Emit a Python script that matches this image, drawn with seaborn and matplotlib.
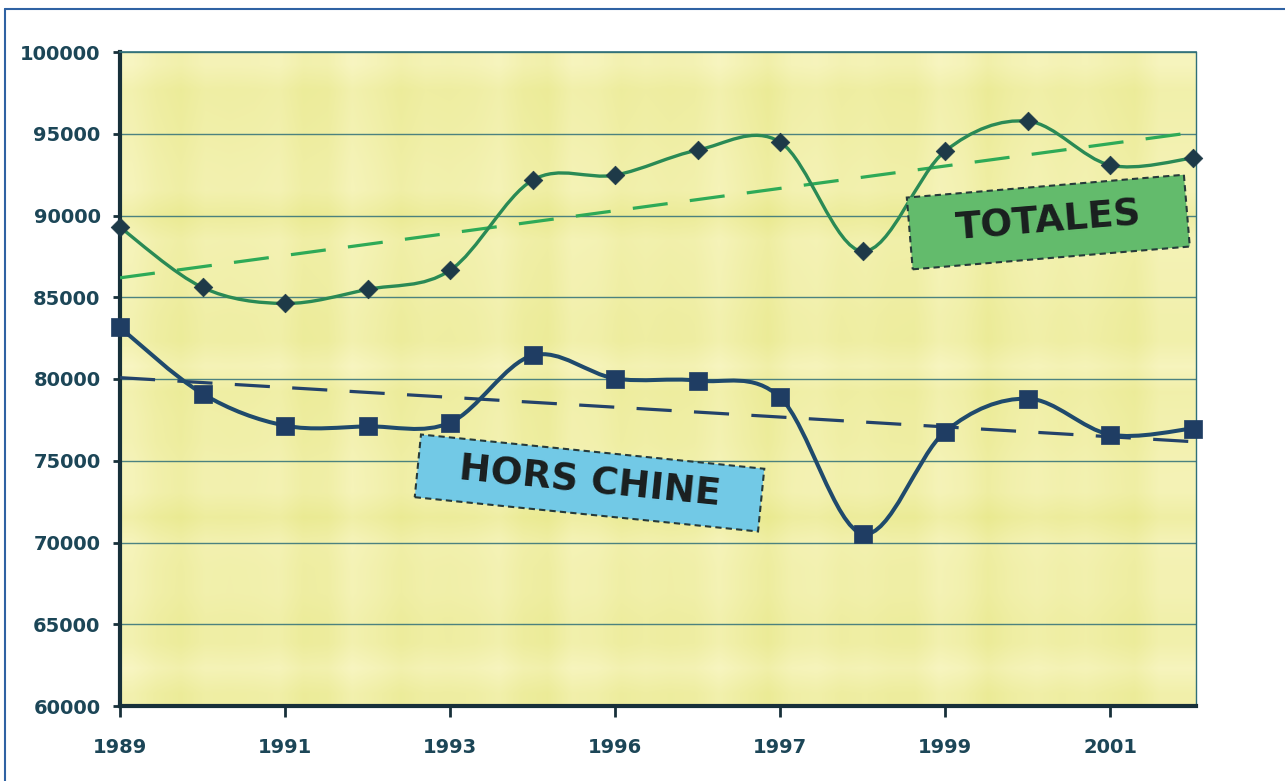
import numpy as np
import matplotlib
matplotlib.use("Agg")
import matplotlib.pyplot as plt
import seaborn as sns
from matplotlib.path import Path
from matplotlib.patches import PathPatch, Rectangle
from matplotlib.transforms import Affine2D
from matplotlib.lines import Line2D

# ---- data ----
years = list(range(1989, 2003))
totales = [89280, 85600, 84620, 85480, 86650, 92160, 92470,
           94000, 94490, 87810, 93940, 95770, 93080, 93510]
hors_chine = [83150, 79100, 77150, 77100, 77330, 81440, 80030,
              79900, 78870, 70530, 76780, 78800, 76600, 76970]
x_ticks = [1989, 1991, 1993, 1995, 1997, 1999, 2001]
x_tick_labels = ["1989", "1991", "1993", "1996", "1997", "1999", "2001"]
y_ticks = list(range(60000, 100001, 5000))
label_totales = "TOTALES"
label_hors = "HORS CHINE"

# ---- colours ----
C_TEXT = "#1c4657"
C_AXIS = "#17303a"
C_GRID = "#2f6f78"
C_TOT_LINE = "#2a8a55"
C_TOT_MARK = "#1e3a48"
C_TOT_TREND = "#2eaa57"
C_HC_LINE = "#1f4a6c"
C_HC_MARK = "#1f3d63"
C_HC_TREND = "#23426a"

sns.set_theme(style="white")
plt.rcParams["font.family"] = ["DejaVu Sans"]

fig = plt.figure(figsize=(12.85, 7.81), dpi=100)
fig.patch.set_facecolor("white")
ax = fig.add_axes([120 / 1285, 75 / 781, 1076 / 1285, 654 / 781])

XLIM = (1989, 2002.04)
YLIM = (60000, 100000)

# plaid-like pale yellow backdrop
rows, cols = 26, 44
r = np.arange(rows)[:, None]
c = np.arange(cols)[None, :]
weave = 0.5 + 0.25 * np.cos(c * 1.7) * np.cos(c * 0.37) + 0.25 * np.cos(r * 2.1) * np.cos(r * 0.53)
light = np.array([0.972, 0.962, 0.76])
dark = np.array([0.915, 0.915, 0.56])
tex = light[None, None, :] * weave[..., None] + dark[None, None, :] * (1 - weave[..., None])
ax.imshow(tex, extent=(XLIM[0], XLIM[1], YLIM[0], YLIM[1]), aspect="auto",
          interpolation="bilinear", zorder=0)


def smooth_path(xs, ys):
    pts = np.column_stack([xs, ys]).astype(float)
    n = len(pts)
    verts = [pts[0]]
    codes = [Path.MOVETO]
    for i in range(n - 1):
        p0 = pts[i - 1] if i > 0 else pts[i]
        p1, p2 = pts[i], pts[i + 1]
        p3 = pts[i + 2] if i + 2 < n else pts[i + 1]
        verts += [p1 + (p2 - p0) / 6, p2 - (p3 - p1) / 6, p2]
        codes += [Path.CURVE4] * 3
    return Path(verts, codes)


# trend lines
sns.regplot(x=years, y=totales, scatter=False, ci=None, truncate=True, ax=ax,
            color=C_TOT_TREND, line_kws=dict(lw=2.3, linestyle=(0, (11, 7)), zorder=3))
sns.regplot(x=years, y=hors_chine, scatter=False, ci=None, truncate=True, ax=ax,
            color=C_HC_TREND, line_kws=dict(lw=2.3, linestyle=(0, (11, 7)), zorder=3))

# smoothed series lines
ax.add_patch(PathPatch(smooth_path(years, totales), fc="none", ec=C_TOT_LINE, lw=2.4, zorder=4))
ax.add_patch(PathPatch(smooth_path(years, hors_chine), fc="none", ec=C_HC_LINE, lw=2.9, zorder=4))

# markers
sns.scatterplot(x=years, y=totales, marker="D", s=90, color=C_TOT_MARK,
                edgecolor=C_TOT_MARK, linewidth=0.5, ax=ax, zorder=5, clip_on=False)
sns.scatterplot(x=years, y=hors_chine, marker="s", s=170, color=C_HC_MARK,
                edgecolor=C_HC_MARK, linewidth=0.5, ax=ax, zorder=5, clip_on=False)

ax.set_xlim(*XLIM)
ax.set_ylim(*YLIM)

# grid
for yv in y_ticks[1:]:
    ax.axhline(yv, color=C_GRID, lw=1.0, alpha=0.85, zorder=1)

ax.set_xticks(x_ticks)
ax.set_xticklabels(x_tick_labels)
ax.set_yticks(y_ticks)
ax.set_yticklabels([str(v) for v in y_ticks])
ax.tick_params(axis="y", direction="out", length=5, width=2, color=C_AXIS, pad=9,
               labelsize=14, labelcolor=C_TEXT, left=True)
ax.tick_params(axis="x", direction="out", length=8, width=2, color=C_AXIS, pad=15,
               labelsize=14, labelcolor=C_TEXT, bottom=True)
for lab in ax.get_xticklabels() + ax.get_yticklabels():
    lab.set_fontweight("bold")
ax.set_xlabel("")
ax.set_ylabel("")

for side in ("left", "bottom"):
    ax.spines[side].set_color(C_AXIS)
    ax.spines[side].set_linewidth(3)
ax.spines["right"].set_color(C_GRID)
ax.spines["right"].set_linewidth(1)
ax.spines["top"].set_color(C_GRID)
ax.spines["top"].set_linewidth(1.2)


def tag(text, center, w, h, angle, fc):
    cx, cy = ax.transData.transform(center)
    rect = Rectangle((-w / 2, -h / 2), w, h,
                     transform=Affine2D().rotate_deg(angle).translate(cx, cy),
                     fc=fc, ec="#263a3a", lw=1.5, ls=(0, (3, 2)), zorder=6, clip_on=False)
    ax.add_patch(rect)
    ax.text(center[0], center[1], text, rotation=angle, rotation_mode="anchor",
            ha="center", va="center", fontsize=27, fontweight="bold",
            color="#1a1f1f", zorder=7)


tag(label_totales, (2000.25, 89600), 278, 72, 4.7, "#63bb6c")
tag(label_hors, (1994.69, 73640), 345, 63, -5.7, "#72c9e6")

# page frame
fig.add_artist(Line2D([5 / 1285, 1], [1 - 9 / 781] * 2, transform=fig.transFigure,
                      color="#2f62a3", lw=1.5))
fig.add_artist(Line2D([5 / 1285] * 2, [0, 1 - 9 / 781], transform=fig.transFigure,
                      color="#2f62a3", lw=1.5))

fig.savefig("out.png", dpi=100)
